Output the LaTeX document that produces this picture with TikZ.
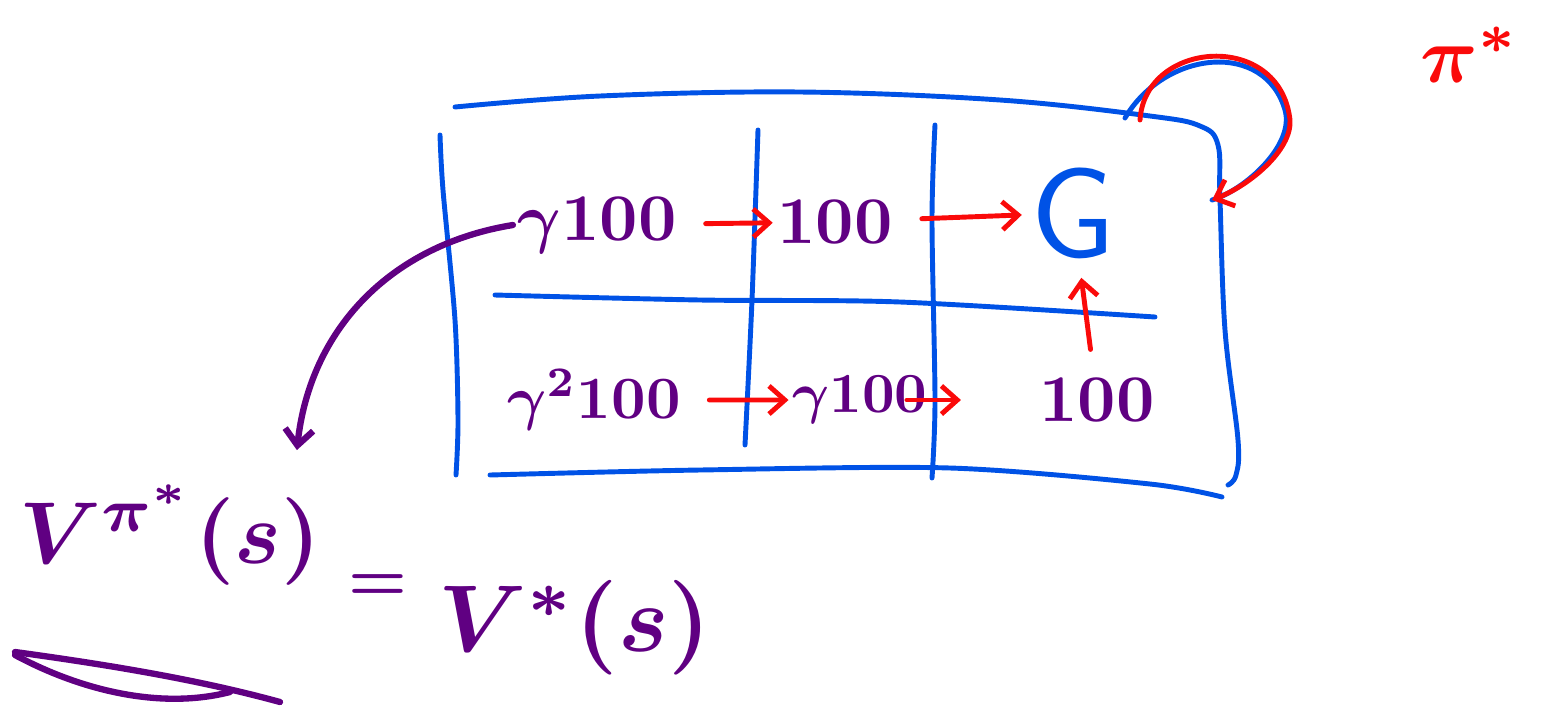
\documentclass[tikz,border=0pt]{standalone}
\usepackage{xcolor}
\usepackage{tikz}
\usetikzlibrary{arrows.meta,calc}
\definecolor{penblue}{RGB}{0,82,230}
\definecolor{penred}{RGB}{250,10,10}
\definecolor{penpurple}{RGB}{96,0,130}

\begin{document}
\begin{tikzpicture}[x=0.02cm, y=-0.02cm,
  grid/.style={draw=penblue, line width=2.8pt, line cap=round, line join=round},
  cell/.style={text=penpurple, font=\boldmath, inner sep=0.5pt, scale=3.8, transform shape},
  big/.style={text=penpurple, font=\boldmath, inner sep=0.3pt, scale=5, transform shape},
  move/.style={draw=penred, line width=2.8pt, line cap=round, shorten <=14pt, -{Straight Barb[length=9pt, width=16pt]}},
  ink/.style={draw=penpurple, line width=3.6pt, line cap=round}]
\useasboundingbox (0,0) rectangle (1546,711);
\draw[grid] plot[smooth, tension=0.6] coordinates {(455,107) (600,96) (800,92) (1000,100) (1150,116) (1200,126) (1218,145) (1220,200) (1225,330) (1238,440) (1236,475) (1228,485)};
\draw[grid] plot[smooth] coordinates {(490,475) (700,470) (950,468) (1150,484) (1222,497)};
\draw[grid] plot[smooth] coordinates {(440,135) (443,190) (455,320) (458,420) (456,475)};
\draw[grid] plot[smooth] coordinates {(758,130) (752,300) (745,445)};
\draw[grid] plot[smooth] coordinates {(935,125) (932,220) (935,400) (932,478)};
\draw[grid] plot[smooth] coordinates {(495,295) (700,300) (900,302) (1155,317)};
\node[cell] (t1) at (597,225) {$\gamma100$};
\node[cell] (t2) at (835,222) {$100$};
\node[cell, text=penblue, font=\sffamily, scale=1.9] (g) at (1073,213) {G};
\node[cell, scale=0.9] (b1) at (594,400) {$\gamma^2 100$};
\node[cell, scale=0.85] (b2) at (860,400) {$\gamma100$};
\node[cell] (b3) at (1097,400) {$100$};
\node[big] (lhs) at (170,535) {$V^{\pi^*}(s)$};
\node[big, scale=0.75] (eq) at (378,588) {$=$};
\node[big, scale=1.08] (rhs) at (575,628) {$V^*(s)$};
\node[cell, text=penred, scale=1.2] (pistar) at (1470,55) {$\pi^*$};
\coordinate (loopout) at (1140,120);
\coordinate (loopin) at (1212,200);
\draw[move] (t1) -- (t2);
\draw[move] (t2) -- (g);
\draw[move] (b1) -- (b2);
\draw[move, shorten <=-14pt, shorten >=42pt] (b2) -- (b3);
\draw[move, shorten >=6pt] (b3) -- (g);
\draw[grid] (1125,118) .. controls (1165,50) and (1265,40) .. (1285,110) .. controls (1295,145) and (1245,190) .. (loopin);
\draw[move, shorten <=0pt] (loopout) .. controls (1145,40) and (1280,30) .. (1290,120) .. controls (1292,150) and (1250,185) .. (loopin);
\draw[ink, -{Straight Barb[length=9pt, width=16pt]}] (t1.west) .. controls (390,245) and (310,330) .. ($(lhs.north east)+(-28,-30)$);
\draw[ink] (15,652) .. controls (110,665) and (200,680) .. (280,702);
\draw[ink] (15,655) .. controls (80,690) and (160,710) .. (230,692);
\end{tikzpicture}
\end{document}
